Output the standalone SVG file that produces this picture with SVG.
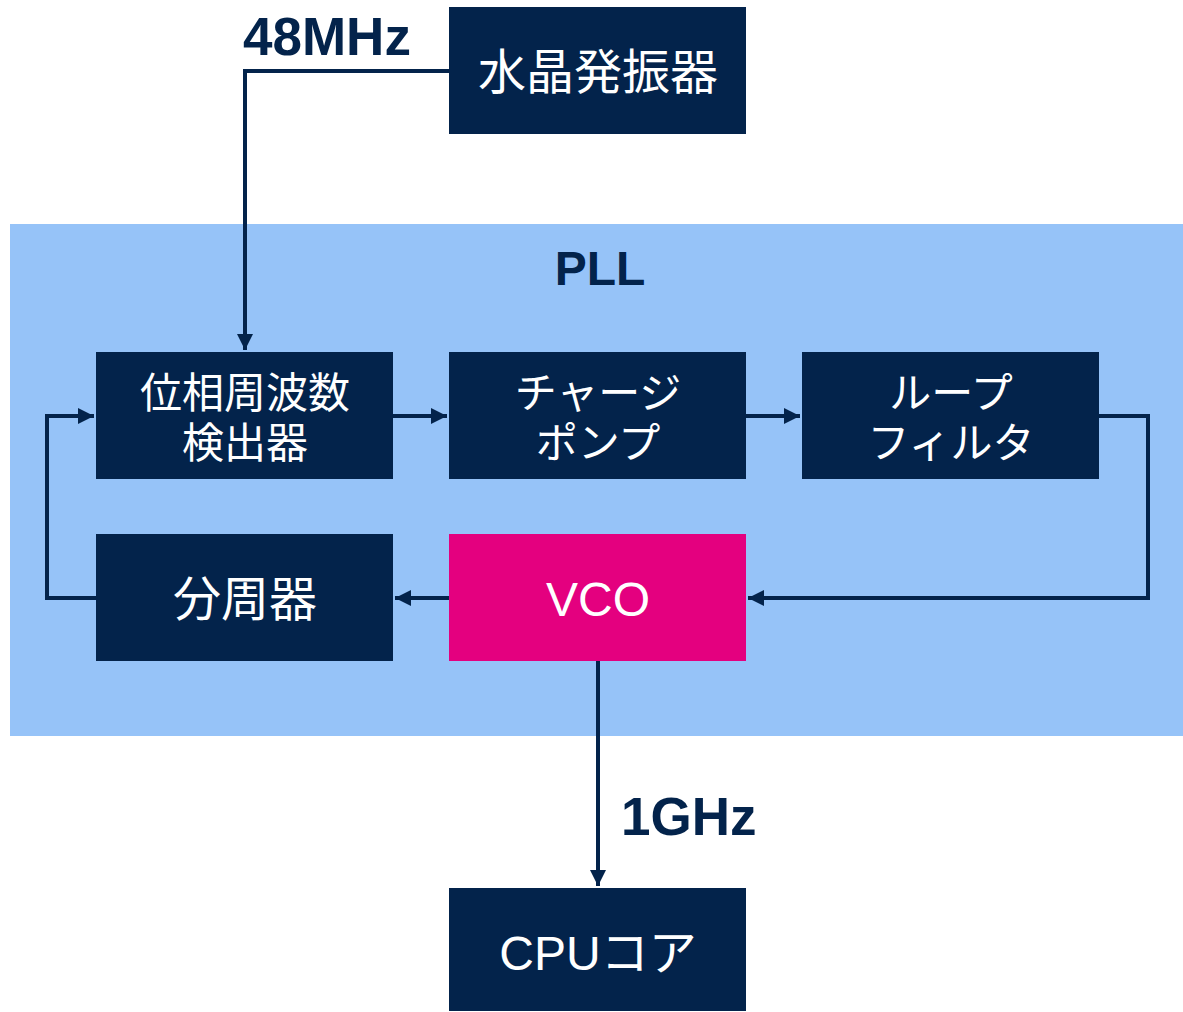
<svg xmlns="http://www.w3.org/2000/svg" width="1183" height="1012" viewBox="0 0 1183 1012">
<style>
.n{fill:#03234B}
.t{fill:#fff;font-family:"Liberation Sans","Noto Sans CJK JP",sans-serif;font-size:48px;text-anchor:middle}
.s{font-size:42px}
.l{fill:#03234B;font-family:"Liberation Sans","Noto Sans CJK JP",sans-serif;font-size:53px;font-weight:bold}
.c{fill:none;stroke:#03234B;stroke-width:4}
</style>
<defs>
<marker id="a" viewBox="0 0 10 10" refX="10" refY="5" markerWidth="4" markerHeight="4" orient="auto" markerUnits="strokeWidth">
<path d="M0,0L10,5L0,10z" fill="#03234B"/>
</marker>
</defs>
<rect x="10" y="224" width="1173" height="512" fill="#96C3F8"/>
<text class="l" x="600" y="285" style="font-size:48px;text-anchor:middle">PLL</text>
<g id="connectors">
<path class="c" d="M449,71H245V350" marker-end="url(#a)"/>
<path class="c" d="M393,416H447" marker-end="url(#a)"/>
<path class="c" d="M746,416H800" marker-end="url(#a)"/>
<path class="c" d="M1099,416H1148V598H748" marker-end="url(#a)"/>
<path class="c" d="M449,598H395" marker-end="url(#a)"/>
<path class="c" d="M96,598H47V416H94" marker-end="url(#a)"/>
<path class="c" d="M598,661V886" marker-end="url(#a)"/>
</g>
<text class="l" x="243" y="55">48MHz</text>
<text class="l" x="621" y="835">1GHz</text>
<g id="xtal"><rect class="n" x="449" y="7" width="297" height="127"/><text class="t" x="598" y="89">水晶発振器</text></g>
<g id="pfd"><rect class="n" x="96" y="352" width="297" height="127"/><text class="t s" x="245" y="408">位相周波数</text><text class="t s" x="245" y="458">検出器</text></g>
<g id="cp"><rect class="n" x="449" y="352" width="297" height="127"/><text class="t s" x="598" y="408">チャージ</text><text class="t s" x="598" y="458">ポンプ</text></g>
<g id="lf"><rect class="n" x="802" y="352" width="297" height="127"/><text class="t s" x="951" y="408">ループ</text><text class="t s" x="951" y="458">フィルタ</text></g>
<g id="div"><rect class="n" x="96" y="534" width="297" height="127"/><text class="t" x="245" y="616">分周器</text></g>
<g id="vco"><rect x="449" y="534" width="297" height="127" fill="#E4007F"/><text class="t" x="598" y="616">VCO</text></g>
<g id="cpu"><rect class="n" x="449" y="888" width="297" height="123"/><text class="t" x="598" y="970">CPUコア</text></g>
</svg>
